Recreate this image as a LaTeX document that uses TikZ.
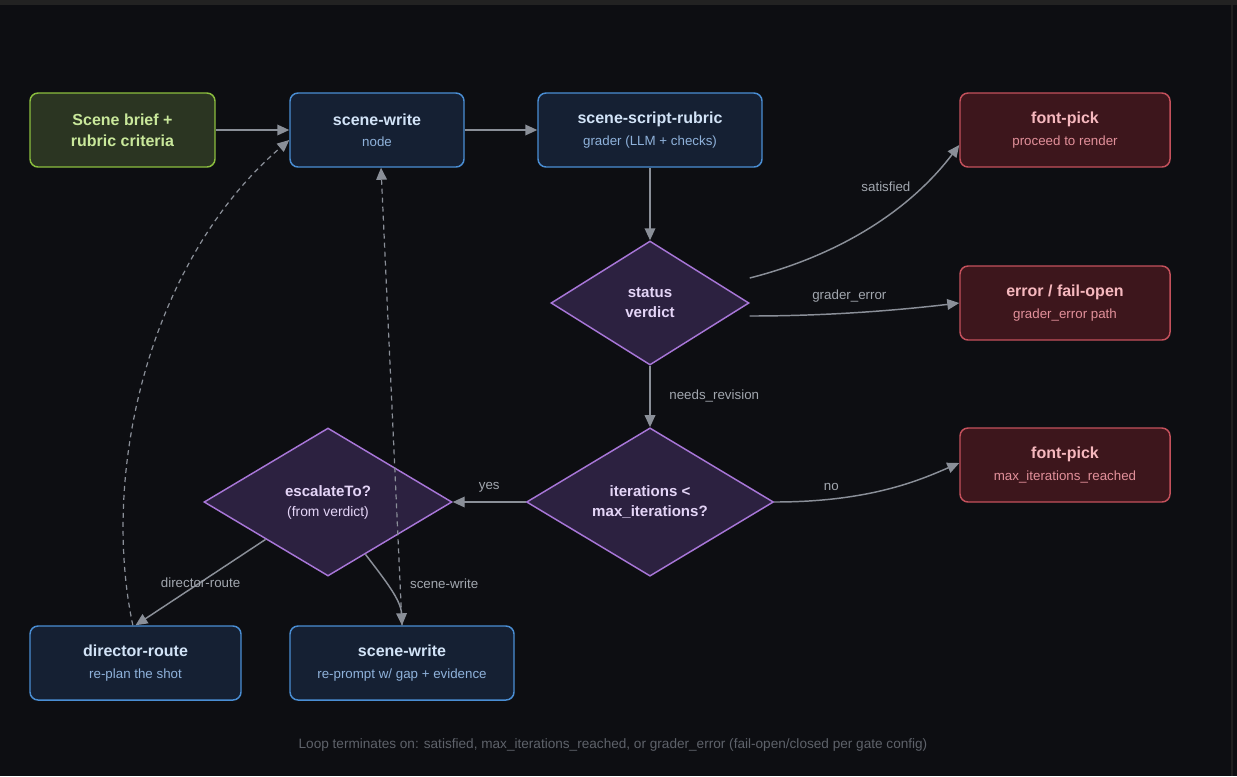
\documentclass[tikz,border=0pt]{standalone}
\usepackage{fontspec}
\setmainfont{Liberation Sans}
\usetikzlibrary{arrows.meta,shapes.geometric,calc}

\definecolor{bgdark}{HTML}{0D0E12}
\definecolor{topbar}{HTML}{222222}
\definecolor{edgegray}{HTML}{8A8F98}
\definecolor{lblgray}{HTML}{A2A7AF}
\definecolor{footgray}{HTML}{5E626A}
\definecolor{greenfill}{HTML}{2B3522}
\definecolor{greenline}{HTML}{8BBE3E}
\definecolor{greentext}{HTML}{C9E89B}
\definecolor{bluefill}{HTML}{152033}
\definecolor{blueline}{HTML}{4A8ED4}
\definecolor{bluetext}{HTML}{D2E3F7}
\definecolor{bluesub}{HTML}{8FB2DB}
\definecolor{redfill}{HTML}{3D161C}
\definecolor{redline}{HTML}{C4515C}
\definecolor{redtext}{HTML}{F6B8BE}
\definecolor{redsub}{HTML}{E2909A}
\definecolor{purpfill}{HTML}{2C2140}
\definecolor{purpline}{HTML}{A876D8}
\definecolor{purptext}{HTML}{E4D5F7}

\newcommand{\nodetitle}[2]{{\fontsize{12}{16}\selectfont\bfseries\color{#1}#2}}

\begin{document}
\begin{tikzpicture}[x=0.75pt, y=-0.75pt, % 1 unit = 1 px
        box/.style={draw, rounded corners=6pt, line width=1.1pt, minimum height=55.5pt,
            align=center, inner sep=2pt, font=\fontsize{10}{16}\selectfont},
        briefbox/.style={box, fill=greenfill, draw=greenline, text=greentext},
        stepbox/.style={box, fill=bluefill, draw=blueline, text=bluesub},
        endbox/.style={box, fill=redfill, draw=redline, text=redsub},
        decision/.style={diamond, draw=purpline, fill=purpfill, line width=1.1pt, inner sep=0pt,
            align=center, text=purptext, font=\fontsize{10.4}{15}\selectfont},
        flow/.style={draw=edgegray, line width=1.1pt, -{Triangle[length=9pt,width=8pt]}},
        back/.style={flow, line width=0.9pt, dash pattern=on 3.75pt off 3pt},
        lbl/.style={text=lblgray, inner sep=0pt, font=\fontsize{10}{12}\selectfont}]

        % Background
        \fill[bgdark] (0,0) rectangle (1237,776);
        \fill[topbar] (0,0) rectangle (1237,5);
        \fill[black!88!white] (1231,5) rectangle (1233,776);

        % Boxes
        \node[briefbox, minimum width=138.75pt] (brief) at (122.5,130)
            {\nodetitle{greentext}{Scene brief +}\\\nodetitle{greentext}{rubric criteria}};
        \node[stepbox, minimum width=130.5pt] (write) at (377,130)
            {\nodetitle{bluetext}{scene-write}\\node};
        \node[stepbox, minimum width=168pt] (rubric) at (650,130)
            {\nodetitle{bluetext}{scene-script-rubric}\\grader (LLM + checks)};
        \node[endbox, minimum width=157.5pt] (pick1) at (1065,130)
            {\nodetitle{redtext}{font-pick}\\proceed to render};
        \node[endbox, minimum width=157.5pt] (err) at (1065,303)
            {\nodetitle{redtext}{error / fail-open}\\grader\_error path};
        \node[endbox, minimum width=157.5pt] (pick2) at (1065,465)
            {\nodetitle{redtext}{font-pick}\\max\_iterations\_reached};
        \node[stepbox, minimum width=158.25pt] (director) at (135.5,663)
            {\nodetitle{bluetext}{director-route}\\re-plan the shot};
        \node[stepbox, minimum width=168pt] (write2) at (402,663)
            {\nodetitle{bluetext}{scene-write}\\re-prompt w/ gap + evidence};

        % Decisions
        \node[decision, minimum width=148.5pt, minimum height=93pt] (status) at (650,303)
            {\fontsize{11.3}{15}\selectfont\textbf{status}\\\fontsize{11.3}{15}\selectfont\textbf{verdict}};
        \node[decision, minimum width=185.25pt, minimum height=111pt] (iter) at (650,502)
            {\fontsize{11.3}{15}\selectfont\textbf{iterations <}\\\fontsize{11.3}{15}\selectfont\textbf{max\_iterations?}};
        \node[decision, minimum width=186pt, minimum height=111pt] (esc) at (328,502)
            {\fontsize{11.3}{15}\selectfont\textbf{escalateTo?}\\(from verdict)};

        % Main flow
        \draw[flow] (brief) -- (write);
        \draw[flow] (write) -- (rubric);
        \draw[flow] (rubric) -- (status);
        \draw[flow] ([yshift=18.75pt]status.east) .. controls (840,255) and (910,210) .. ([yshift=-11.25pt]pick1.west)
            node[lbl, pos=0.65, xshift=-10.5pt, yshift=14.25pt] {satisfied};
        \draw[flow] ([yshift=-9.75pt]status.east) .. controls (830,316) and (900,310) .. (err.west)
            node[lbl, pos=0.5, xshift=-9.75pt, yshift=12pt] {grader\_error};
        \draw[flow] (status) -- (iter) node[lbl, midway, anchor=west, xshift=14pt] {needs\_revision};
        \draw[flow] (iter.east) .. controls (870,502) and (920,480) .. ([yshift=1.5pt]pick2.west)
            node[lbl, pos=0.25, xshift=-5pt, yshift=8.5pt] {no};
        \draw[flow] (iter) -- (esc) node[lbl, midway, yshift=11pt] {yes};

        % Escalation
        \draw[flow] (esc.south west) -- (director.north) node[lbl, midway] {director-route};
        \draw[flow] ($(esc.south)!0.3!(esc.east)$) .. controls (385,580) and (401,600) .. (write2.north)
            node[lbl, pos=0.5, anchor=west, xshift=14pt, yshift=5pt] {scene-write};

        % Loop back (dashed)
        \draw[back] ([xshift=-2pt]director.north) .. controls (100,470) and (150,260) .. ([yshift=-7.5pt]write.west);
        \draw[back] (write2.north) -- ([xshift=3pt]write.south);

        % Footer
        \node[text=footgray, font=\fontsize{10.2}{12}\selectfont] (note) at (613,745)
            {Loop terminates on: satisfied, max\_iterations\_reached, or grader\_error (fail-open/closed per gate config)};
\end{tikzpicture}
\end{document}
